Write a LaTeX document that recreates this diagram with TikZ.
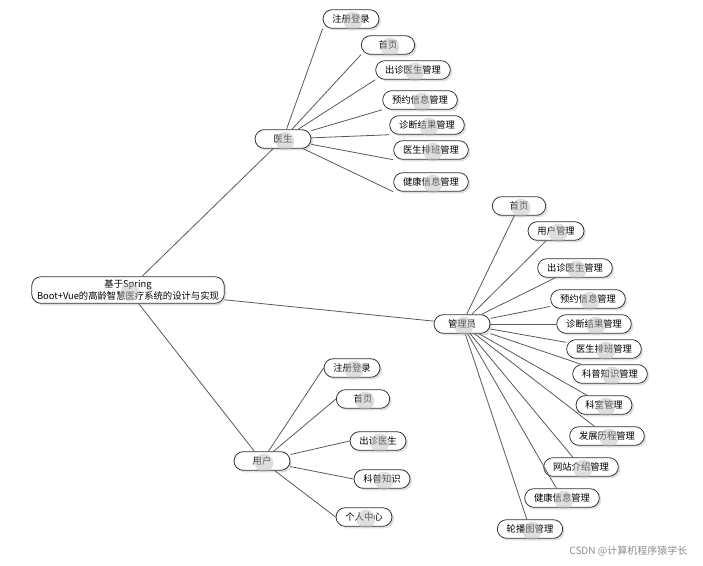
\documentclass[tikz,border=0pt]{standalone}
\usepackage{fontspec}
\setmainfont{Noto Sans CJK SC}
\usetikzlibrary{shadows}
\begin{document}
\begin{tikzpicture}[x=0.75pt,y=-0.75pt,
 box/.style={draw=black!80,line width=0.6pt,rounded corners=7pt,fill=white,
   drop shadow={shadow xshift=1.5pt,shadow yshift=-1.5pt,fill=black!25},
   font=\fontsize{7}{8}\selectfont,inner xsep=7pt,minimum height=14pt,align=center},
 ln/.style={draw=black!65,line width=0.6pt}]
\useasboundingbox (0,0) rectangle (703,565);
\node[box,inner xsep=4pt,minimum height=20pt,inner ysep=1pt,font=\fontsize{7}{7}\selectfont] (r) at (128,290) {基于Spring\\Boot+Vue的高龄智慧医疗系统的设计与实现};
\node[box,minimum width=42pt] (d) at (283,139) {医生};
\node[box,minimum width=42pt] (m) at (462,324) {管理员};
\node[box,minimum width=42pt] (u) at (262,461) {用户};
\draw[ln] (r) -- (d); \draw[ln] (r) -- (m); \draw[ln] (r) -- (u);
\foreach \n/\x/\y/\t in {d1/351/19/注册登录,d2/388/45/首页,d3/413/70/出诊医生管理,d4/420/100/预约信息管理,d5/427/125/诊断结果管理,d6/431/150/医生排班管理,d7/431/182/健康信息管理}{
 \node[box,minimum width=40pt] (\n) at (\x,\y) {\t};
 \draw[ln] (d) -- (\n.south west);}
\foreach \n/\x/\y/\t in {m1/519/206/首页,m2/556/231/用户管理,m3/575/268/出诊医生管理,m4/588/299/预约信息管理,m5/594/324/诊断结果管理,m6/604/349/医生排班管理,m7/610/374/科普知识管理,m8/604/405/科室管理,m9/607/436/发展历程管理,m10/581/467/网站介绍管理,m11/562/498/健康信息管理,m12/530/529/轮播图管理}{
 \node[box,minimum width=40pt] (\n) at (\x,\y) {\t};
 \draw[ln] (m) -- (\n);}
\foreach \n/\x/\y/\t in {u1/352/368/注册登录,u2/363/399/首页,u3/378/441/出诊医生,u4/382/479/科普知识,u5/364/517/个人中心}{
 \node[box,minimum width=40pt] (\n) at (\x,\y) {\t};
 \draw[ln] (u) -- (\n.west);}
\foreach \n in {d1,d2,d3,d4,d5,d6,d7,m1,m2,m3,m4,m5,m6,m7,m8,m9,m10,m11,m12,u1,u2,u3,u4,u5,r,d,m,u}{\node[box,draw=none,fill=none,drop shadow={opacity=0}] at (\n) {};}
\node[font=\fontsize{7.5}{8}\selectfont,text=black!45,anchor=east] (wm) at (692,551) {CSDN @计算机程序猿学长};
\end{tikzpicture}
\end{document}
